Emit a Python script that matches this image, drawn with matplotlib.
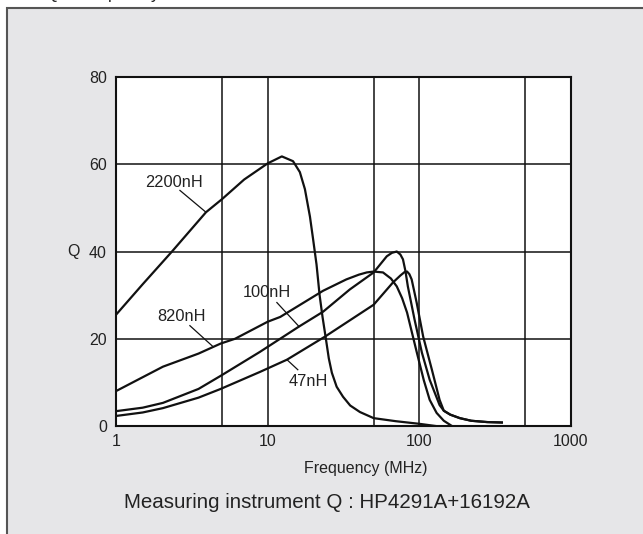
import numpy as np
import matplotlib.pyplot as plt
from matplotlib.patches import Rectangle

plt.rcParams['font.family'] = ['Liberation Sans', 'DejaVu Sans']

# Q vs frequency
f_2200 = [1, 1.5, 2.34, 3.92, 5, 7, 10, 12.4, 14.7, 16.3, 17.6, 19.0, 19.9, 21, 22, 23, 24.2,
          25.3, 26.5, 28.5, 31.4, 35, 40.6, 50, 70, 100, 128]
q_2200 = [25.5, 32.5, 40, 49, 52, 56.5, 60.2, 61.8, 60.7, 58.2, 54.3, 48, 43, 37, 30, 25, 20,
          15.5, 12.2, 9, 6.7, 4.7, 3.2, 1.8, 1.1, 0.5, 0]

f_820 = [1, 2.04, 3.5, 4.9, 6.1, 10, 12.1, 23.2, 33, 40, 45, 50, 57.6, 65, 71, 77, 83, 90,
         96.5, 107, 117, 130, 145, 164]
q_820 = [8.0, 13.6, 16.6, 18.9, 20, 23.9, 25, 31, 33.6, 34.7, 35.2, 35.4, 35.2, 33.8, 32, 29.3,
         26, 21, 16.7, 10.5, 6, 3, 1.2, 0]

f_100 = [1, 1.5, 2.04, 3.5, 4.9, 8.9, 16.1, 23.2, 34.8, 50, 61, 66, 71, 75, 78, 81, 84, 93, 104,
         117, 136, 145, 160, 185, 220, 280, 350]
q_100 = [3.4, 4.2, 5.3, 8.5, 11.5, 17, 22.8, 26.2, 31.3, 35.2, 38.9, 39.7, 40, 39.3, 38.2, 35.5,
         32, 24.4, 16.8, 10.6, 4.8, 3.5, 2.6, 1.8, 1.2, 0.9, 0.8]

f_47 = [1, 1.5, 2.04, 3.5, 4.9, 8.9, 13.4, 23.9, 50, 67, 75, 80, 83, 86, 89, 96, 106, 121, 136,
        145, 160, 185, 220, 280, 350]
q_47 = [2.3, 3.1, 4.1, 6.5, 8.5, 12.4, 15.2, 20.5, 27.8, 32.9, 34.5, 35.3, 35.4, 34.8, 33.6,
        28.3, 20.5, 12.9, 6.0, 3.5, 2.6, 1.8, 1.2, 0.9, 0.8]

# label text position, leader start, leader end
labels = ['2200nH', '820nH', '100nH', '47nH']
label_pos = [(2.41, 55.9), (2.72, 25.0), (9.9, 30.6), (18.4, 10.1)]
leader_from = [(2.64, 54.0), (3.07, 23.0), (11.5, 28.3), (13.4, 15.2)]
leader_to = [(3.92, 49.0), (4.36, 18.2), (16.1, 22.8), (15.8, 12.9)]

xticks = [1, 10, 100, 1000]
xgrid = [5, 10, 50, 100, 500]
yticks = [0, 20, 40, 60, 80]

fig = plt.figure(figsize=(6.43, 5.34), dpi=100)
fig.patch.set_facecolor('white')

# gray panel behind the chart
panel = Rectangle((7 / 643, -0.1), 1.2, 1.1 - 8 / 534, transform=fig.transFigure,
                  facecolor='#e6e6e8', edgecolor='#555555', linewidth=1.5, zorder=-5)
fig.patches.append(panel)

# heading, mostly cut off by the top edge
fig.text(45 / 643, 1 + 2 / 534, 'Q - Frequency characteristics', fontsize=13,
         va='baseline', ha='left', color='#222222')

ax = fig.add_axes([116 / 643, (534 - 426) / 534, (571 - 116) / 643, (426 - 77) / 534])
ax.set_zorder(2)
ax.set_facecolor('white')
ax.set_xscale('log')
ax.set_xlim(1, 1000)
ax.set_ylim(0, 80)

for x in xgrid:
    ax.axvline(x, color='#111111', lw=1.1, zorder=1)
for y in yticks[1:-1]:
    ax.axhline(y, color='#111111', lw=1.1, zorder=1)

for f, q in [(f_2200, q_2200), (f_820, q_820), (f_100, q_100), (f_47, q_47)]:
    ax.plot(f, q, color='#111111', lw=1.6, zorder=3, solid_joinstyle='round')

for name, p, a, b in zip(labels, label_pos, leader_from, leader_to):
    ax.text(p[0], p[1], name, fontsize=11.8, ha='center', va='center', color='#222222', zorder=4)
    ax.plot([a[0], b[0]], [a[1], b[1]], color='#111111', lw=0.9, zorder=3)

ax.set_xticks(xticks)
ax.set_xticklabels([str(t) for t in xticks])
ax.set_xticks([], minor=True)
ax.set_yticks(yticks)
ax.tick_params(length=0, labelsize=11.5, colors='#222222')
ax.tick_params(axis='y', pad=6.5)
ax.tick_params(axis='x', pad=6)
for s in ax.spines.values():
    s.set_linewidth(1.5)
    s.set_color('#111111')

fig.text(366 / 643, 1 - 469 / 534, 'Frequency (MHz)', fontsize=11.5, color='#222222',
         ha='center', va='center')
ax.text(-0.0945, 40, 'Q', transform=ax.get_yaxis_transform(), fontsize=11.5,
        ha='center', va='center', color='#222222')

fig.text(327 / 643, 1 - 502 / 534, 'Measuring instrument Q : HP4291A+16192A',
         fontsize=14.8, ha='center', va='center', color='#222222')

fig.savefig('out.png', dpi=100)
